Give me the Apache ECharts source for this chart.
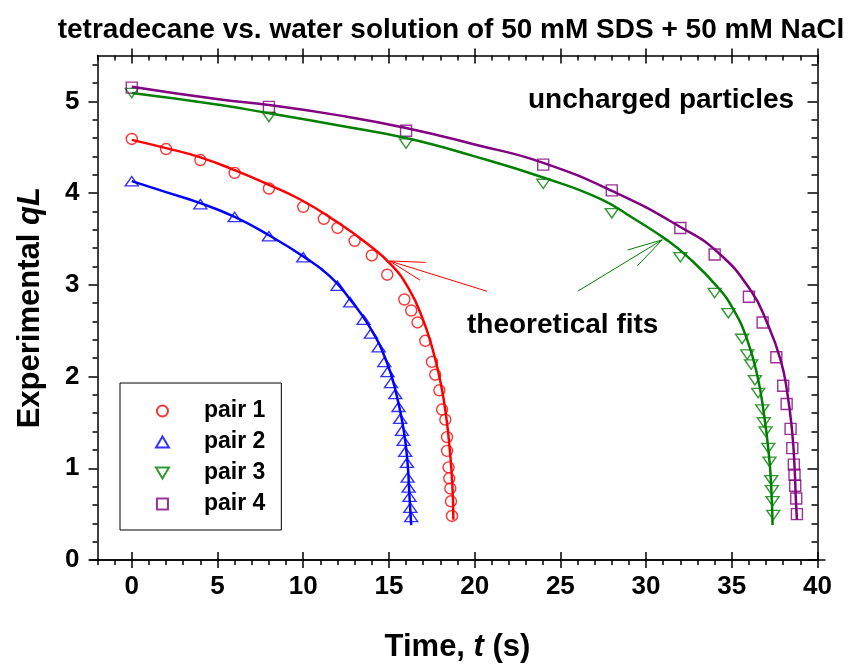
<!DOCTYPE html>
<html>
<head>
<meta charset="utf-8">
<script src="https://cdn.jsdelivr.net/npm/echarts@6/dist/echarts.min.js"></script>
<style>
  html, body { margin: 0; padding: 0; background: #fff; }
  #chart { width: 848px; height: 664px; }
</style>
</head>
<body>
<div id="chart"></div>
<script>
// measured points (time in s, qL)
const pair1T = [0, 2, 4, 6, 8, 10, 11.2, 12, 13, 14, 14.9, 15.9, 16.3, 16.67, 17.12, 17.51, 17.7, 17.94, 18.1, 18.29, 18.39, 18.39, 18.48, 18.52, 18.58, 18.62, 18.68];
const pair1Q = [4.59, 4.48, 4.36, 4.22, 4.05, 3.85, 3.72, 3.62, 3.48, 3.32, 3.11, 2.84, 2.72, 2.59, 2.39, 2.16, 2.02, 1.85, 1.64, 1.53, 1.34, 1.19, 1.01, 0.89, 0.78, 0.64, 0.48];
const pair2T = [0, 4, 6, 8, 10, 12, 12.74, 13.52, 13.95, 14.4, 14.73, 14.92, 15.12, 15.37, 15.56, 15.66, 15.76, 15.86, 15.95, 16.05, 16.09, 16.15, 16.2, 16.25, 16.3];
const pair2Q = [4.13, 3.88, 3.74, 3.53, 3.30, 2.99, 2.81, 2.62, 2.47, 2.32, 2.16, 2.05, 1.93, 1.81, 1.67, 1.54, 1.41, 1.30, 1.18, 1.06, 0.90, 0.79, 0.69, 0.57, 0.47];
const pair3T = [0, 8, 16, 24, 28, 32, 34, 34.8, 35.6, 35.9, 36.13, 36.35, 36.54, 36.78, 36.87, 36.97, 37.13, 37.2, 37.3, 37.34, 37.38, 37.42];
const pair3Q = [5.09, 4.83, 4.54, 4.10, 3.78, 3.30, 2.91, 2.69, 2.41, 2.24, 2.13, 1.96, 1.82, 1.64, 1.50, 1.40, 1.22, 1.07, 0.87, 0.76, 0.64, 0.49];
const pair4T = [0, 8, 16, 24, 28, 32, 34, 36, 36.8, 37.6, 38, 38.2, 38.43, 38.53, 38.62, 38.66, 38.7, 38.76, 38.8];
const pair4Q = [5.15, 4.94, 4.68, 4.31, 4.03, 3.62, 3.33, 2.87, 2.59, 2.21, 1.90, 1.70, 1.43, 1.22, 1.04, 0.93, 0.81, 0.67, 0.50];

// theoretical fit curves
const fit1T = [0, 2, 4, 6, 8, 9.83, 11.77, 13.72, 15.18, 16.15, 16.93, 17.56, 18.04, 18.35, 18.56, 18.7, 18.76];
const fit1Q = [4.58, 4.49, 4.39, 4.25, 4.09, 3.93, 3.71, 3.45, 3.21, 2.96, 2.65, 2.29, 1.91, 1.55, 1.18, 0.82, 0.44];
const fit2T = [0, 2, 4, 6, 8, 10, 11.58, 12.74, 13.91, 14.89, 15.47, 15.86, 16.09, 16.2, 16.3];
const fit2Q = [4.13, 4.01, 3.89, 3.74, 3.54, 3.31, 3.09, 2.84, 2.53, 2.15, 1.78, 1.42, 1.05, 0.69, 0.38];
const fit3T = [0, 5.17, 8, 12, 16, 20, 24, 27.3, 29.3, 31.2, 32.4, 34.15, 35.1, 35.9, 36.5, 36.87, 37.16, 37.3, 37.38];
const fit3Q = [5.09, 4.96, 4.87, 4.74, 4.60, 4.40, 4.17, 3.94, 3.72, 3.49, 3.31, 2.98, 2.73, 2.40, 2.00, 1.60, 1.16, 0.80, 0.38];
const fit4T = [0, 5.17, 8, 12, 16, 20, 24, 28.5, 32, 34.15, 36.1, 37.07, 37.85, 38.24, 38.53, 38.66, 38.74, 38.8];
const fit4Q = [5.16, 5.02, 4.96, 4.85, 4.71, 4.53, 4.33, 3.98, 3.63, 3.36, 2.94, 2.58, 2.18, 1.82, 1.38, 1.02, 0.65, 0.44];

const seriesNames = ['pair 1', 'pair 2', 'pair 3', 'pair 4'];
const colors = ['#ff0000', '#0000ff', '#008000', '#800080'];

// ticks and labels
const xMajor = [0, 5, 10, 15, 20, 25, 30, 35, 40];
const xMinor = [-2, -1, 0, 1, 2, 3, 4, 5, 6, 7, 8, 9, 10, 11, 12, 13, 14, 15, 16, 17, 18, 19, 20, 21, 22, 23, 24, 25, 26, 27, 28, 29, 30, 31, 32, 33, 34, 35, 36, 37, 38, 39, 40];
const yMajor = [0, 1, 2, 3, 4, 5];
const yMinor = [0, 0.2, 0.4, 0.6, 0.8, 1, 1.2, 1.4, 1.6, 1.8, 2, 2.2, 2.4, 2.6, 2.8, 3, 3.2, 3.4, 3.6, 3.8, 4, 4.2, 4.4, 4.6, 4.8, 5, 5.2, 5.4];

// annotation arrows [tail, tip] in data units
const arrowRed = [[20.72, 2.93], [15.04, 3.26]];
const arrowGreen = [[26.01, 2.93], [30.94, 3.49]];

const FONT = 'Liberation Sans, Arial, sans-serif';
const chart = echarts.init(document.getElementById('chart'));

const zip = (a, b) => a.map((v, i) => [v, b[i]]);

const axis = (kind, pos, o) => {
  const ax = {
    type: 'value',
    position: pos,
    min: kind === 'x' ? -2 : 0,
    max: kind === 'x' ? 40 : 5.5,
    splitLine: { show: false },
    axisLine: { show: !!o.line, onZero: false, lineStyle: { color: '#000', width: 1.5 } },
    axisLabel: { show: false },
    axisTick: { show: false }
  };
  if (o.ticks) ax.axisTick = { show: true, customValues: o.ticks, inside: o.inside, length: o.len, lineStyle: { color: '#000', width: 1.5 } };
  return ax;
};

const nameRich = {
  n: { fontSize: 31, fontWeight: 'bold', fontFamily: FONT, color: '#000' },
  i: { fontSize: 31, fontWeight: 'bold', fontStyle: 'italic', fontFamily: FONT, color: '#000' }
};

const xAxes = [
  Object.assign(axis('x', 'bottom', { line: true, ticks: xMajor, inside: false, len: 8 }), {
    axisLabel: { show: true, customValues: xMajor, margin: 14, color: '#000', fontSize: 26, fontWeight: 'bold', fontFamily: FONT },
    name: '{n|Time, }{i|t}{n| (s)}',
    nameLocation: 'middle',
    nameGap: 72,
    nameTextStyle: { rich: nameRich }
  }),
  axis('x', 'bottom', { ticks: xMajor, inside: true, len: 8 }),
  axis('x', 'bottom', { ticks: xMinor, inside: false, len: 5 }),
  axis('x', 'top', { line: true, ticks: xMajor, inside: true, len: 8 }),
  axis('x', 'top', { ticks: xMajor, inside: false, len: 7 }),
  axis('x', 'top', { ticks: xMinor, inside: true, len: 5 })
];

const yAxes = [
  Object.assign(axis('y', 'left', { line: true, ticks: yMajor, inside: false, len: 9 }), {
    axisLabel: { show: true, customValues: yMajor, margin: 18, color: '#000', fontSize: 26, fontWeight: 'bold', fontFamily: FONT },
    name: '{n|Experimental }{i|qL}',
    nameLocation: 'middle',
    nameGap: 52,
    nameTextStyle: { rich: nameRich }
  }),
  axis('y', 'left', { ticks: yMinor, inside: false, len: 5 }),
  axis('y', 'right', { line: true, ticks: yMajor, inside: true, len: 10 }),
  axis('y', 'right', { ticks: yMinor, inside: true, len: 6 })
];

const pairs = [zip(pair1T, pair1Q), zip(pair2T, pair2Q), zip(pair3T, pair3Q), zip(pair4T, pair4Q)];
const fits = [zip(fit1T, fit1Q), zip(fit2T, fit2Q), zip(fit3T, fit3Q), zip(fit4T, fit4Q)];
const symbols = [
  'circle',
  'path://M10,0 L20,17 L0,17 Z',
  'path://M0,0 L20,0 L10,17 Z',
  'path://M0,0 L20,0 L20,20 L0,20 Z'
];
const symbolSizes = [11, [13, 11], [13, 11], 11];

const series = [];
pairs.forEach((d, i) => {
  series.push({
    name: seriesNames[i],
    type: 'scatter',
    data: d,
    symbol: symbols[i],
    symbolSize: symbolSizes[i],
    symbolKeepAspect: true,
    itemStyle: { color: 'transparent', borderColor: colors[i], borderWidth: 1.4 },
    emphasis: { disabled: true },
    z: 3
  });
});
fits.forEach((d, i) => {
  series.push({
    name: 'fit ' + (i + 1),
    type: 'line',
    data: d,
    smooth: 0.5,
    showSymbol: false,
    lineStyle: { color: colors[i], width: 2.5 },
    emphasis: { disabled: true },
    z: 4
  });
});

chart.setOption({
  animation: false,
  backgroundColor: '#fff',
  grid: { left: 97.5, right: 30.5, top: 55.5, bottom: 104, outerBoundsMode: 'none' },
  xAxis: xAxes,
  yAxis: yAxes,
  legend: {
    data: seriesNames,
    orient: 'vertical',
    left: 120,
    top: 383,
    padding: [16.5, 16, 14.5, 35],
    itemWidth: 13,
    itemHeight: 11,
    itemGap: 8,
    symbolKeepAspect: true,
    borderColor: '#000',
    borderWidth: 1,
    selectedMode: false,
    textStyle: { color: '#000', fontSize: 23, fontWeight: 'bold', fontFamily: FONT, padding: [0, 0, 0, 30] }
  },
  series: series
});

const px = p => chart.convertToPixel({ seriesIndex: 0 }, p);

const arrow = (pts, color) => {
  const a = px(pts[0]);
  const b = px(pts[1]);
  const ang = Math.atan2(a[1] - b[1], a[0] - b[0]);
  const len = 36, spread = 15 * Math.PI / 180;
  const h1 = [b[0] + len * Math.cos(ang + spread), b[1] + len * Math.sin(ang + spread)];
  const h2 = [b[0] + len * Math.cos(ang - spread), b[1] + len * Math.sin(ang - spread)];
  return [
    { type: 'line', shape: { x1: a[0], y1: a[1], x2: b[0], y2: b[1] }, style: { stroke: color, lineWidth: 1 } },
    { type: 'polyline', shape: { points: [h1, b, h2] }, style: { stroke: color, fill: null, lineWidth: 1 } }
  ];
};

const left0 = px([-2, 0]);
const right0 = px([40, 0]);
const textStyle = (t, size) => ({ text: t, fill: '#000', font: 'bold ' + size + 'px ' + FONT });

chart.setOption({
  graphic: [
    { type: 'text', x: 451, y: 30, style: Object.assign(textStyle('tetradecane vs. water solution of 50 mM SDS + 50 mM NaCl', 28), { align: 'center', verticalAlign: 'middle' }) },
    { type: 'text', x: 528, y: 100.5, style: Object.assign(textStyle('uncharged particles', 28), { align: 'left', verticalAlign: 'middle' }) },
    { type: 'text', x: 467, y: 325, style: Object.assign(textStyle('theoretical fits', 28), { align: 'left', verticalAlign: 'middle' }) },
    { type: 'line', shape: { x1: left0[0] - 8, y1: left0[1], x2: right0[0] + 8, y2: right0[1] }, style: { stroke: '#000', lineWidth: 1.5 } }
  ].concat(arrow(arrowRed, '#ff0000'), arrow(arrowGreen, '#008000'))
});
</script>
</body>
</html>
